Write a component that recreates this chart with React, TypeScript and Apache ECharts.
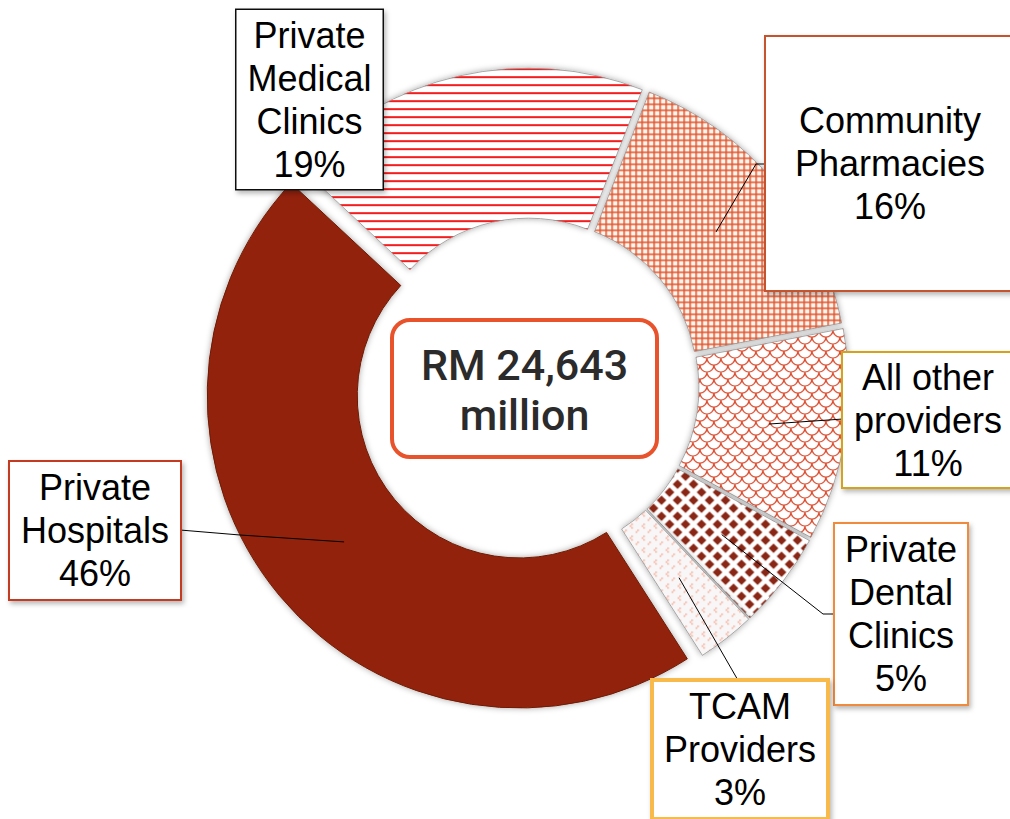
import React, { useEffect, useRef } from 'react';
import * as echarts from 'echarts';

// ---- data ----
const categories = [
  'Private Medical Clinics',
  'Community Pharmacies',
  'All other providers',
  'Private Dental Clinics',
  'TCAM Providers',
  'Private Hospitals',
];
const labelNames = [
  'Private\nMedical\nClinics',
  'Community\nPharmacies',
  'All other\nproviders',
  'Private\nDental\nClinics',
  'TCAM\nProviders',
  'Private\nHospitals',
];
const shares = [19, 16, 11, 5, 3, 46];
const totalLine1 = 'RM 24,643';
const totalLine2 = 'million';

// ---- layout / style (not data) ----
const W = 1010;
const H = 819;
const PIE_CX = 530;
const PIE_CY = 387;
const R_IN = 162;
const R_OUT = 312;
const R_LEADER = 242; // radius where leader lines end inside the ring
const START_ANGLE = 137;
const HOSPITAL_INDEX = 5;
const BOX_CX = 524.5;
const BOX_CY = 388.5;

// label box: center x/y, content width, vertical paddings, border colour/width, leader anchor path (box side)
const labelBoxes = [
  { x: 309.5, y: 99.5, w: 142, pt: 4, pb: 3, bc: '#111111', bw: 1.5, anchor: [] as number[][] },
  { x: 890, y: 163.5, w: 244, pt: 64, pb: 60, bc: '#C4532F', bw: 2, anchor: [[756, 164], [766, 164]] },
  { x: 928, y: 420, w: 166, pt: 3, pb: 2, bc: '#D4A21C', bw: 2, anchor: [[843, 419]] },
  { x: 901, y: 614, w: 128, pt: 4, pb: 4, bc: '#F08A3C', bw: 2, anchor: [[823, 614], [835, 614]] },
  { x: 740, y: 749.5, w: 168, pt: 3, pb: 3, bc: '#F8BA4C', bw: 4, anchor: [[739, 682]] },
  { x: 95, y: 530.5, w: 166, pt: 4, pb: 4, bc: '#C43A22', bw: 2, anchor: [[240, 535], [180, 530]] },
];
const showLeader = [false, true, true, true, true, true];

function makePattern(w: number, h: number, draw: (ctx: CanvasRenderingContext2D) => void) {
  const c = document.createElement('canvas');
  c.width = w;
  c.height = h;
  const ctx = c.getContext('2d') as CanvasRenderingContext2D;
  draw(ctx);
  return { image: c, repeat: 'repeat', imageWidth: w, imageHeight: h } as any;
}

function buildFills() {
  const clinics = makePattern(8, 8, (ctx) => {
    ctx.fillStyle = '#ffffff';
    ctx.fillRect(0, 0, 8, 8);
    ctx.fillStyle = '#F41A1A';
    ctx.fillRect(0, 3, 8, 2);
  });
  const pharm = makePattern(6, 6, (ctx) => {
    ctx.fillStyle = '#FFF5EF';
    ctx.fillRect(0, 0, 6, 6);
    ctx.fillStyle = '#E0552C';
    ctx.fillRect(0, 0, 6, 1.5);
    ctx.fillRect(0, 0, 1.5, 6);
  });
  const other = makePattern(14, 14, (ctx) => {
    ctx.fillStyle = '#ffffff';
    ctx.fillRect(0, 0, 14, 14);
    ctx.strokeStyle = '#D9482A';
    ctx.lineWidth = 1.2;
    const centers = [
      [0, 0], [14, 0], [7, 7], [0, 14], [14, 14], [7, -7],
    ];
    centers.forEach(([cx, cy]) => {
      ctx.beginPath();
      ctx.arc(cx, cy, 7, 0, Math.PI);
      ctx.stroke();
    });
  });
  const dental = makePattern(16, 16, (ctx) => {
    ctx.fillStyle = '#ffffff';
    ctx.fillRect(0, 0, 16, 16);
    ctx.fillStyle = '#8A2614';
    const pts = [[8, 8], [0, 0], [16, 0], [0, 16], [16, 16]];
    pts.forEach(([cx, cy]) => {
      ctx.beginPath();
      ctx.moveTo(cx, cy - 4.8);
      ctx.lineTo(cx + 4.8, cy);
      ctx.lineTo(cx, cy + 4.8);
      ctx.lineTo(cx - 4.8, cy);
      ctx.closePath();
      ctx.fill();
    });
  });
  const tcam = makePattern(12, 12, (ctx) => {
    ctx.fillStyle = '#F8F6F6';
    ctx.fillRect(0, 0, 12, 12);
    ctx.fillStyle = '#F2A48E';
    ctx.fillRect(3, 2, 1.5, 1.5);
    ctx.fillRect(1.5, 3.8, 1.5, 1.5);
    ctx.fillRect(3, 5.6, 1.5, 1.5);
    ctx.fillRect(9, 8, 1.5, 1.5);
    ctx.fillRect(7.5, 9.8, 1.5, 1.5);
  });
  return [clinics, pharm, other, dental, tcam, '#93240A'];
}

export default function App() {
  const ref = useRef<HTMLDivElement>(null);

  useEffect(() => {
    document.body.style.margin = '0';
    if (!ref.current) return;
    const chart = echarts.init(ref.current, undefined, { renderer: 'svg' });
    const fills = buildFills();

    const labelFor = (i: number) => {
      const b = labelBoxes[i];
      return {
        show: true,
        position: 'outside',
        formatter: (p: any) => `${labelNames[p.dataIndex]}\n${p.value}%`,
        fontFamily: '"Liberation Sans", Arial, sans-serif',
        fontSize: 36,
        lineHeight: 43,
        color: '#000000',
        align: 'center',
        verticalAlign: 'middle',
        width: b.w,
        overflow: 'none',
        backgroundColor: '#ffffff',
        borderColor: b.bc,
        borderWidth: b.bw,
        padding: [b.pt, 2, b.pb, 2],
        shadowColor: 'rgba(0,0,0,0.28)',
        shadowBlur: 5,
        shadowOffsetX: 2,
        shadowOffsetY: 3,
      };
    };

    const sliceStyle = (i: number) =>
      i === HOSPITAL_INDEX
        ? {
            color: fills[i],
            borderColor: '#6E1A06',
            borderWidth: 1,
            shadowColor: 'rgba(0,0,0,0.35)',
            shadowBlur: 6,
          }
        : {
            color: fills[i],
            borderColor: 'rgba(150,150,150,0.8)',
            borderWidth: 1,
            shadowColor: 'rgba(0,0,0,0.35)',
            shadowBlur: 6,
          };

    const hiddenSlice = {
      itemStyle: { color: 'rgba(0,0,0,0)', borderWidth: 0, shadowBlur: 0 },
      label: { show: false },
      labelLine: { show: false },
    };

    // slice layers (no labels)
    const sliceData = (visible: (i: number) => boolean) =>
      categories.map((name, i) => {
        if (!visible(i)) return { name, value: shares[i], ...hiddenSlice };
        return {
          name,
          value: shares[i],
          selected: true,
          itemStyle: sliceStyle(i),
          label: { show: false },
          labelLine: { show: false },
        };
      });

    // label layer (transparent slices, labels + leader lines)
    const labelData = categories.map((name, i) => ({
      name,
      value: shares[i],
      itemStyle: { color: 'rgba(0,0,0,0)', borderWidth: 0 },
      label: labelFor(i),
      labelLine: {
        show: showLeader[i],
        length: 8,
        length2: 10,
        lineStyle: { color: '#000000', width: 1 },
      },
    }));

    const labelLayout = (params: any) => {
      const b = labelBoxes[params.dataIndex];
      if (!b) return {};
      const out: any = { x: b.x, y: b.y, align: 'center', verticalAlign: 'middle' };
      const pts = params.labelLinePoints;
      if (pts && pts.length && b.anchor.length) {
        out.labelLinePoints = [pts[0], ...b.anchor];
      }
      return out;
    };

    const common = {
      type: 'pie',
      center: [PIE_CX, PIE_CY],
      radius: [R_IN, R_OUT],
      startAngle: START_ANGLE,
      clockwise: true,
      avoidLabelOverlap: false,
      emphasis: { disabled: true },
    };

    chart.setOption({
      animation: false,
      backgroundColor: '#ffffff',
      series: [
        {
          ...common,
          selectedMode: 'multiple',
          selectedOffset: 14,
          silent: true,
          z: 2,
          data: sliceData((i) => i === HOSPITAL_INDEX),
        },
        {
          ...common,
          selectedMode: 'multiple',
          selectedOffset: 7,
          silent: true,
          z: 3,
          data: sliceData((i) => i !== HOSPITAL_INDEX),
        },
        {
          ...common,
          radius: [R_IN, R_LEADER],
          z: 4,
          labelLayout,
          data: labelData,
        },
      ],
      graphic: [
        {
          type: 'group',
          x: BOX_CX,
          y: BOX_CY,
          z: 100,
          children: [
            {
              type: 'rect',
              shape: { x: -132.5, y: -68.5, width: 265, height: 137, r: 18 },
              style: { fill: '#ffffff', stroke: '#E8532B', lineWidth: 4 },
            },
            {
              type: 'text',
              x: 0,
              y: 1,
              style: {
                text: `${totalLine1}\n${totalLine2}`,
                fontFamily: 'Roboto, "Noto Sans", sans-serif',
                fontWeight: 500,
                fontSize: 43,
                lineHeight: 50,
                fill: '#2B2B2B',
                align: 'center',
                verticalAlign: 'middle',
                textAlign: 'center',
                textVerticalAlign: 'middle',
              },
            },
          ],
        },
      ],
    } as any);

    return () => chart.dispose();
  }, []);

  return <div ref={ref} style={{ width: W, height: H }} />;
}
